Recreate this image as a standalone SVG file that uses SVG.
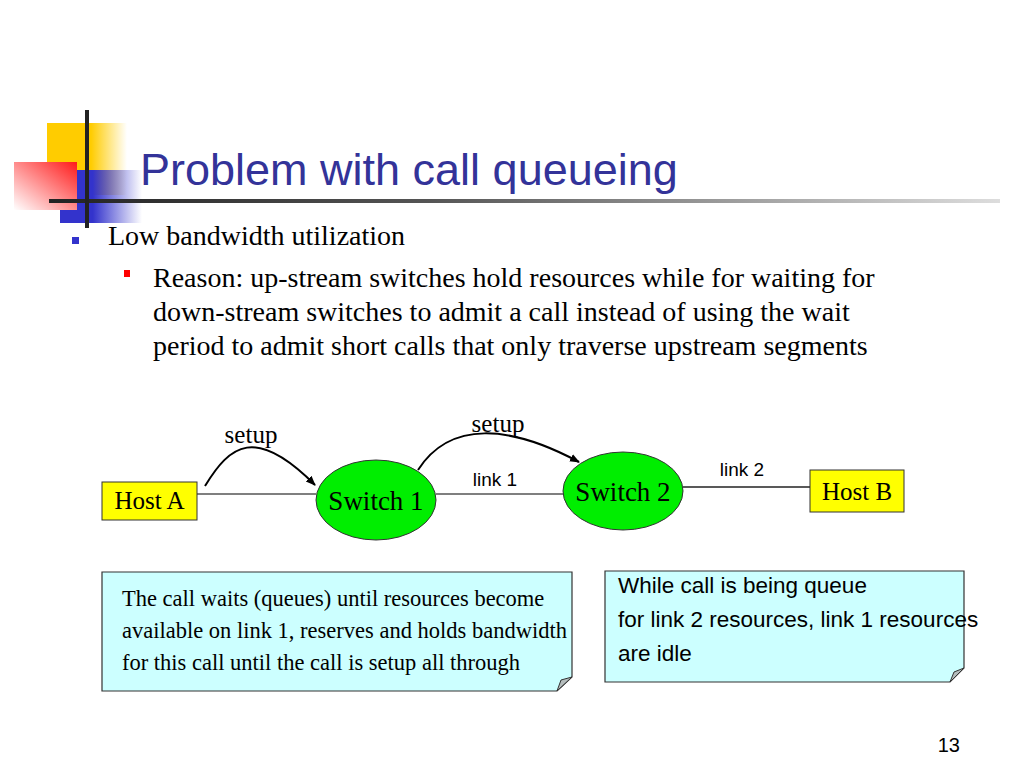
<svg xmlns="http://www.w3.org/2000/svg" width="1024" height="768" viewBox="0 0 1024 768">
<defs>
<linearGradient id="gy" x1="0" y1="0" x2="1" y2="0"><stop offset="0.55" stop-color="#ffcc00"/><stop offset="1" stop-color="#ffcc00" stop-opacity="0"/></linearGradient>
<linearGradient id="gr" x1="1" y1="0" x2="0" y2="1"><stop offset="0" stop-color="#ff1a1a"/><stop offset="1" stop-color="#ffffff"/></linearGradient>
<linearGradient id="gb" x1="0" y1="0" x2="1" y2="0"><stop offset="0.4" stop-color="#3333cc"/><stop offset="1" stop-color="#3333cc" stop-opacity="0"/></linearGradient>
<linearGradient id="gl" x1="0" y1="0" x2="1" y2="0"><stop offset="0" stop-color="#222"/><stop offset="0.4" stop-color="#555"/><stop offset="1" stop-color="#ddd"/></linearGradient>
<marker id="ah" markerWidth="10" markerHeight="10" refX="9" refY="5" orient="auto" markerUnits="userSpaceOnUse"><path d="M0,1 L10,5 L0,9 Z" fill="#000"/></marker>
</defs>
<style>
.t{font-family:"Liberation Serif",serif;fill:#000}
.s{font-family:"Liberation Sans",sans-serif;fill:#000}
.node{stroke:#333;stroke-width:1}
.ln{stroke:#555;stroke-width:1.3;fill:none}
.arc{stroke:#000;stroke-width:2;fill:none;marker-end:url(#ah)}
.note{fill:#ccffff;stroke:#333;stroke-width:1.2}
.fold{fill:#b4bcbc;stroke:#333;stroke-width:1}
</style>
<rect width="1024" height="768" fill="#fff"/>
<g id="decor">
<rect x="47" y="123" width="80" height="72" fill="url(#gy)"/>
<rect x="60" y="170" width="82" height="53" fill="url(#gb)"/>
<rect x="14" y="162" width="63" height="48" fill="url(#gr)"/>
<rect x="49" y="199" width="951" height="4" fill="url(#gl)"/>
<rect x="85" y="110" width="4" height="118" fill="#222"/>
</g>
<text class="s" x="140" y="185" font-size="45" style="fill:#333399">Problem with call queueing</text>
<g id="bullets">
<rect x="72" y="237" width="7" height="7" fill="#3333cc"/>
<text class="t" x="108" y="245" font-size="28">Low bandwidth utilization</text>
<rect x="124" y="270" width="6" height="7" fill="#ff0000"/>
<text class="t" x="153" y="287" font-size="28">Reason: up-stream switches hold resources while for waiting for</text>
<text class="t" x="153" y="321" font-size="28">down-stream switches to admit a call instead of using the wait</text>
<text class="t" x="153" y="355" font-size="28">period to admit short calls that only traverse upstream segments</text>
</g>
<g id="connectors">
<line class="ln" x1="197" y1="494" x2="316" y2="494"/>
<line class="ln" x1="436" y1="494" x2="563" y2="494"/>
<line class="ln" x1="683" y1="487" x2="810" y2="487" style="stroke:#222"/>
<path class="arc" d="M205,486 C230,445 255,425 315,485"/>
<path class="arc" d="M418,470 C450,420 510,425 579,462"/>
<text class="t" x="251" y="443" font-size="25" text-anchor="middle">setup</text>
<text class="t" x="498" y="432" font-size="25" text-anchor="middle">setup</text>
<text class="s" x="495" y="486" font-size="19" text-anchor="middle">link 1</text>
<text class="s" x="742" y="476" font-size="19" text-anchor="middle">link 2</text>
</g>
<g id="hostA">
<rect class="node" x="102" y="482" width="95" height="38" fill="#ffff00"/>
<text class="t" x="149.500" y="509" font-size="25" text-anchor="middle">Host A</text>
</g>
<g id="switch1">
<ellipse class="node" cx="376" cy="500" rx="60" ry="40" fill="#00ee00"/>
<text class="t" x="376" y="510" font-size="27" text-anchor="middle">Switch 1</text>
</g>
<g id="switch2">
<ellipse class="node" cx="623" cy="491" rx="60" ry="39" fill="#00ee00"/>
<text class="t" x="623" y="501" font-size="27" text-anchor="middle">Switch 2</text>
</g>
<g id="hostB">
<rect class="node" x="810" y="470" width="94" height="42" fill="#ffff00"/>
<text class="t" x="857" y="500" font-size="25" text-anchor="middle">Host B</text>
</g>
<g id="note1">
<path class="note" d="M102,572 H572 V677 L557,691 H102 Z"/>
<path class="fold" d="M557,691 L561,680 L572,677 Z"/>
<text class="t" x="122" y="606" font-size="22.500">The call waits (queues) until resources become</text>
<text class="t" x="122" y="638" font-size="22.500">available on link 1, reserves and holds bandwidth</text>
<text class="t" x="122" y="670" font-size="22.500">for this call until the call is setup all through</text>
</g>
<g id="note2">
<path class="note" d="M605,571 H964 V668 L950,682 H605 Z"/>
<path class="fold" d="M950,682 L954,672 L964,668 Z"/>
<text class="s" x="618" y="593" font-size="22.500">While call is being queue</text>
<text class="s" x="618" y="627" font-size="22.500">for link 2 resources, link 1 resources</text>
<text class="s" x="618" y="661" font-size="22.500">are idle</text>
</g>
<text class="s" x="960" y="752" font-size="20" text-anchor="end">13</text>
</svg>
